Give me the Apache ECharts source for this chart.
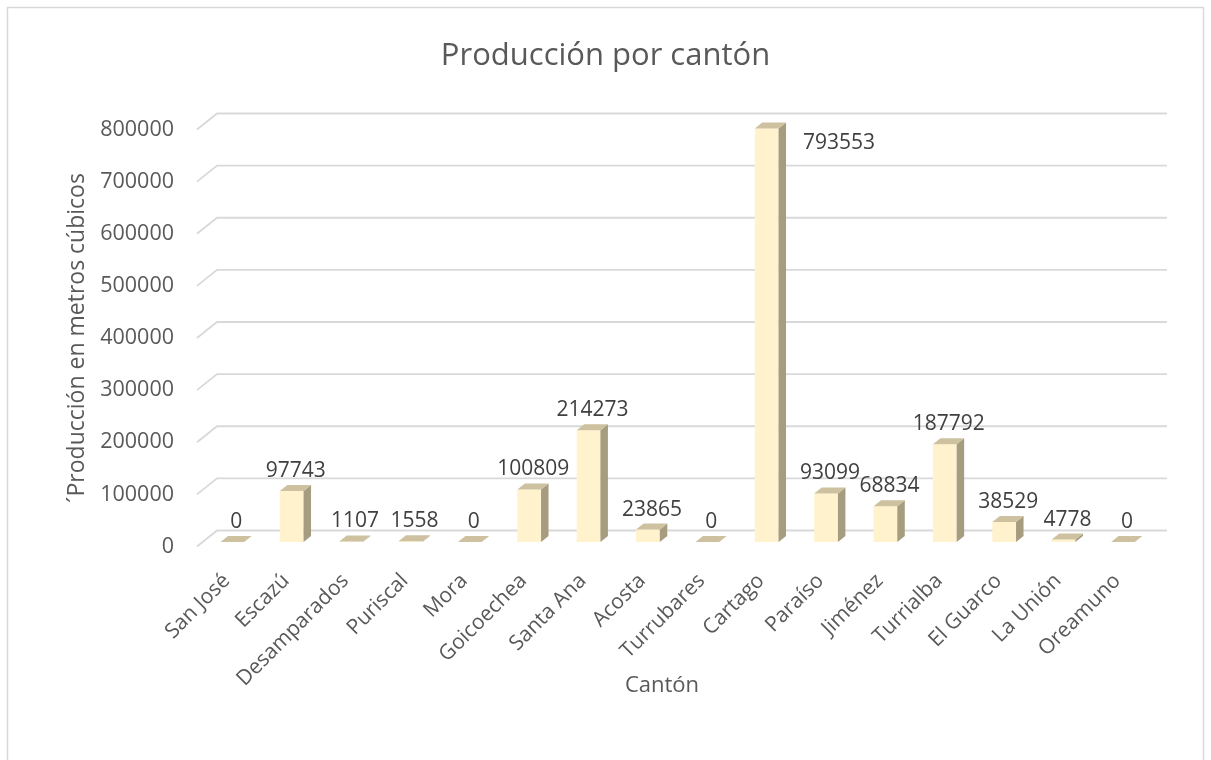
<!DOCTYPE html>
<html>
<head>
<meta charset="utf-8">
<script src="https://cdn.jsdelivr.net/npm/echarts@6/dist/echarts.min.js"></script>
<style>
html,body{margin:0;padding:0;background:#fff;}
#chart{width:1211px;height:760px;}
</style>
</head>
<body>
<div id="chart"></div>
<script>
const categories = ['San José','Escazú','Desamparados','Puriscal','Mora','Goicoechea','Santa Ana','Acosta','Turrubares','Cartago','Paraíso','Jiménez','Turrialba','El Guarco','La Unión','Oreamuno'];
const values = [0,97743,1107,1558,0,100809,214273,23865,0,793553,93099,68834,187792,38529,4778,0];
const yTicks = [0,100000,200000,300000,400000,500000,600000,700000,800000];

const FONT = 'Open Sans';
const WALL_DX = 20, WALL_DY = -16;   // depth of the 3D plot (px)
const BAR_F = 0.28, BAR_B = 0.655;  // bar depth position (fraction)

const chart = echarts.init(document.getElementById('chart'), null, {renderer:'canvas'});

function renderGrid(params, api){
  const cs = params.coordSys;
  const v = api.value(0);
  const y = api.coord([0, v])[1];
  const x0 = cs.x, x1 = cs.x + cs.width;
  return {
    type:'polyline',
    shape:{points:[[x0,y],[x0+WALL_DX,y+WALL_DY],[x1+WALL_DX,y+WALL_DY]]},
    style:{stroke:'#D9D9D9', lineWidth:1.8, fill:null}
  };
}

function renderBar(params, api){
  const cs = params.coordSys;
  const i = api.value(0), v = api.value(1);
  const base = api.coord([i, 0]);
  const top = api.coord([i, v]);
  const band = api.size([1, 0])[0];
  const w = band * 0.4;
  const fx = WALL_DX*BAR_F, fy = WALL_DY*BAR_F;
  const bx = WALL_DX*(BAR_B-BAR_F), by = WALL_DY*(BAR_B-BAR_F);
  const x0 = base[0] - w/2 + fx, x1 = x0 + w;
  const yb = base[1] + fy, yt = top[1] + fy;
  const children = [
    {type:'polygon', shape:{points:[[x0,yt],[x1,yt],[x1,yb],[x0,yb]]}, style:{fill:'#FFF2CC'}},
    {type:'polygon', shape:{points:[[x1,yt],[x1+bx,yt+by],[x1+bx,yb+by],[x1,yb]]}, style:{fill:'#A69C80'}},
    {type:'polygon', shape:{points:[[x0,yt],[x1,yt],[x1+bx,yt+by],[x0+bx,yt+by]]}, style:{fill:'#CDC1A0'}}
  ];
  const nearTop = (yt - 40) < cs.y;
  children.push({
    type:'text',
    style:{
      text:String(v),
      x: nearTop ? x1 + bx + 17 : (x0 + x1)/2 + 4,
      y: nearTop ? yt + 15 : yt - 20,
      align: nearTop ? 'left' : 'center',
      verticalAlign:'middle',
      fill:'#404040',
      font:'21px "' + FONT + '"'
    }
  });
  return {type:'group', children};
}

const option = {
  backgroundColor:'#fff',
  animation:false,
  title:{
    text:'Producción por cantón',
    left:'center', top:36,
    textStyle:{fontFamily:FONT, fontSize:31, fontWeight:'normal', color:'#595959'}
  },
  graphic:[{
    type:'rect', shape:{x:7.5, y:7.5, width:1196, height:800},
    style:{fill:null, stroke:'#D9D9D9', lineWidth:1.5}, silent:true, z:-10
  }],
  grid:{left:197, right:64, top:129.5, bottom:213.5, containLabel:false},
  xAxis:{
    type:'category', data:categories,
    axisLine:{show:false}, axisTick:{show:false},
    axisLabel:{interval:0, rotate:45, margin:31, fontFamily:FONT, fontSize:21, color:'#595959'},
    name:'Cantón', nameLocation:'middle', nameGap:128, nameMoveOverlap:false,
    nameTextStyle:{fontFamily:FONT, fontSize:22, color:'#595959', padding:[0,20,0,0]}
  },
  yAxis:{
    type:'value', min:0, max:800000, interval:100000,
    axisLine:{show:false}, axisTick:{show:false}, splitLine:{show:false},
    axisLabel:{margin:23, fontFamily:FONT, fontSize:21.5, color:'#595959', formatter:(v)=>String(v)},
    name:'´Producción en metros cúbicos', nameLocation:'middle', nameGap:106, nameRotate:90,
    nameTextStyle:{fontFamily:FONT, fontSize:23, color:'#595959'}
  },
  series:[
    {type:'custom', renderItem:renderGrid, data:yTicks.map(v=>[v]), encode:{y:0}, z:1, silent:true},
    {type:'custom', renderItem:renderBar, data:values.map((v,i)=>[i,v]), encode:{x:0,y:1}, z:5}
  ]
};
chart.setOption(option);
</script>
</body>
</html>
